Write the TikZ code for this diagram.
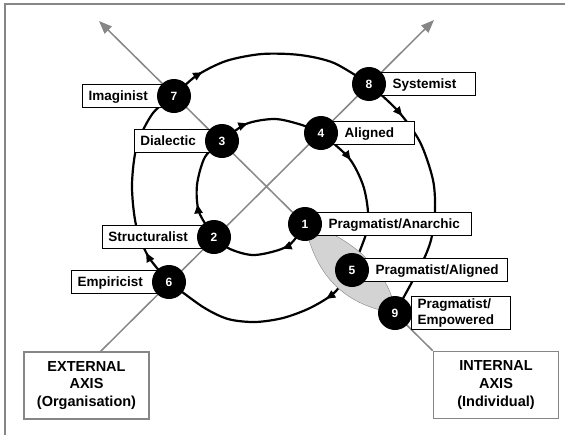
\documentclass[tikz,border=0pt]{standalone}
\usepackage{fontspec}
\setmainfont{Liberation Sans}
\usepackage{tikz}
\usetikzlibrary{positioning}
\usetikzlibrary{arrows.meta}
\usetikzlibrary{decorations.markings}
\pgfdeclarelayer{axes}
\pgfdeclarelayer{shade}
\pgfdeclarelayer{tags}
\pgfsetlayers{axes,shade,tags,main}
\definecolor{axisgray}{HTML}{868686}
\definecolor{lensgray}{HTML}{D3D3D3}
\tikzset{
  stage/.style={circle, fill=black, minimum size=34pt, inner sep=0pt, text=white,
    font=\fontsize{12}{12}\selectfont\bfseries},
  box/.style={draw=black, line width=0.8pt, fill=white, inner xsep=6pt,
    font=\fontsize{13.5}{16.7}\selectfont\bfseries},
  tag/.style={box, inner ysep=5pt, text height=11pt, text depth=2pt},
  padl/.style={execute at begin node={\hspace*{#1}}},
  padr/.style={execute at end node={\hspace*{#1}}},
  axisbox/.style={draw=axisgray, line width=1.6pt, fill=white, align=center,
    minimum width=125pt, minimum height=67pt, font=\fontsize{14.5}{17.8}\selectfont\bfseries},
  axisline/.style={axisgray, line width=1.5pt, -{Triangle[length=13pt,width=10pt]}},
  flow/.style={line width=2.2pt, postaction={decorate},
    decoration={markings, mark=at position #1 with {\arrow{Triangle[length=9pt,width=8pt]}}}},
  flow/.default=37pt
}

\begin{document}
\begin{tikzpicture}[x=1pt, y=-1pt]
\useasboundingbox (0,0) rectangle (565,434);
% stages
\node[stage] (n1) at (305,224) {1};
\node[stage] (n2) at (214,237) {2};
\node[stage] (n3) at (222,141) {3};
\node[stage] (n4) at (321,133) {4};
\node[stage] (n5) at (352,270) {5};
\node[stage] (n6) at (169,282) {6};
\node[stage] (n7) at (174,96) {7};
\node[stage] (n8) at (369,84) {8};
\node[stage] (n9) at (395,313) {9};
% axes
\node[axisbox] (extbox) at (86.5,385.5) {EXTERNAL\\AXIS\\(Organisation)};
\node[axisbox] (intbox) at (496,385) {INTERNAL\\AXIS\\(Individual)};
\coordinate (tipL) at (99,21);
\coordinate (tipR) at (434,20);
\coordinate (extfoot) at (100,352);
\begin{pgfonlayer}{tags}
\node[tag, padr=12pt, left=-9.5pt of n7] (l7) {Imaginist};
\node[tag, padr=12pt, left=-9.5pt of n3] (l3) {Dialectic};
\node[tag, padr=12pt, left=-9.5pt of n2] (l2) {Structuralist};
\node[tag, padr=12pt, left=-9.5pt of n6] (l6) {Empiricist};
\node[tag, padl=10pt, padr=13pt, right=-10pt of n8] (l8) {Systemist};
\node[tag, padl=10pt, padr=14pt, right=-10pt of n4] (l4) {Aligned};
\node[tag, padl=10pt, padr=5pt, right=-10pt of n1] (l1) {Pragmatist/Anarchic};
\node[tag, padl=10pt, padr=3pt, right=-10pt of n5] (l5) {Pragmatist/Aligned};
\node[box, align=left, text width=87pt, inner ysep=2pt, right=-1pt of n9] (l9) {Pragmatist/\\Empowered};
\end{pgfonlayer}
\begin{pgfonlayer}{shade}
\filldraw[fill=lensgray, draw=axisgray, line width=0.4pt] (n1.center) .. controls (314,270) and (340,305) .. (n9.center)
  .. controls (393,277) and (354,236) .. (n1.center) -- cycle;
\end{pgfonlayer}
\begin{pgfonlayer}{axes}
\draw[axisgray, line width=1.5pt] (5,440) -- (5,4) -- (570,4);
\draw[axisline] (intbox.north west) -- (tipL);
\draw[axisline] (extfoot) -- (tipR);
% inner turn
\draw[flow=34pt] plot[smooth] coordinates {(n1.center) (288,246) (255,255) (230,249) (n2.center)};
\draw[flow] plot[smooth] coordinates {(n2.center) (199,212) (197,185) (205,157) (n3.center)};
\draw[flow=31pt] plot[smooth] coordinates {(n3.center) (246,124) (275,119) (302,125) (n4.center)};
\draw[flow=40pt] plot[smooth] coordinates {(n4.center) (349,158) (363,185) (368,212) (366,234) (n5.center)};
% outer turn
\draw[flow=39pt] plot[smooth] coordinates {(n5.center) (334,293) (310,308) (283,318) (255,322) (228,319) (203,307) (n6.center)};
\draw[flow] plot[smooth] coordinates {(n6.center) (148,256) (136,225) (132,185) (137,145) (153,113) (n7.center)};
\draw[flow] plot[smooth] coordinates {(n7.center) (196,76) (226,61) (262,54) (300,55) (334,63) (n8.center)};
\draw[flow=46pt] plot[smooth] coordinates {(n8.center) (398,111) (420,142) (433,180) (435,212) (431,240) (421,265) (n9.center)};
\end{pgfonlayer}
\end{tikzpicture}
\end{document}
